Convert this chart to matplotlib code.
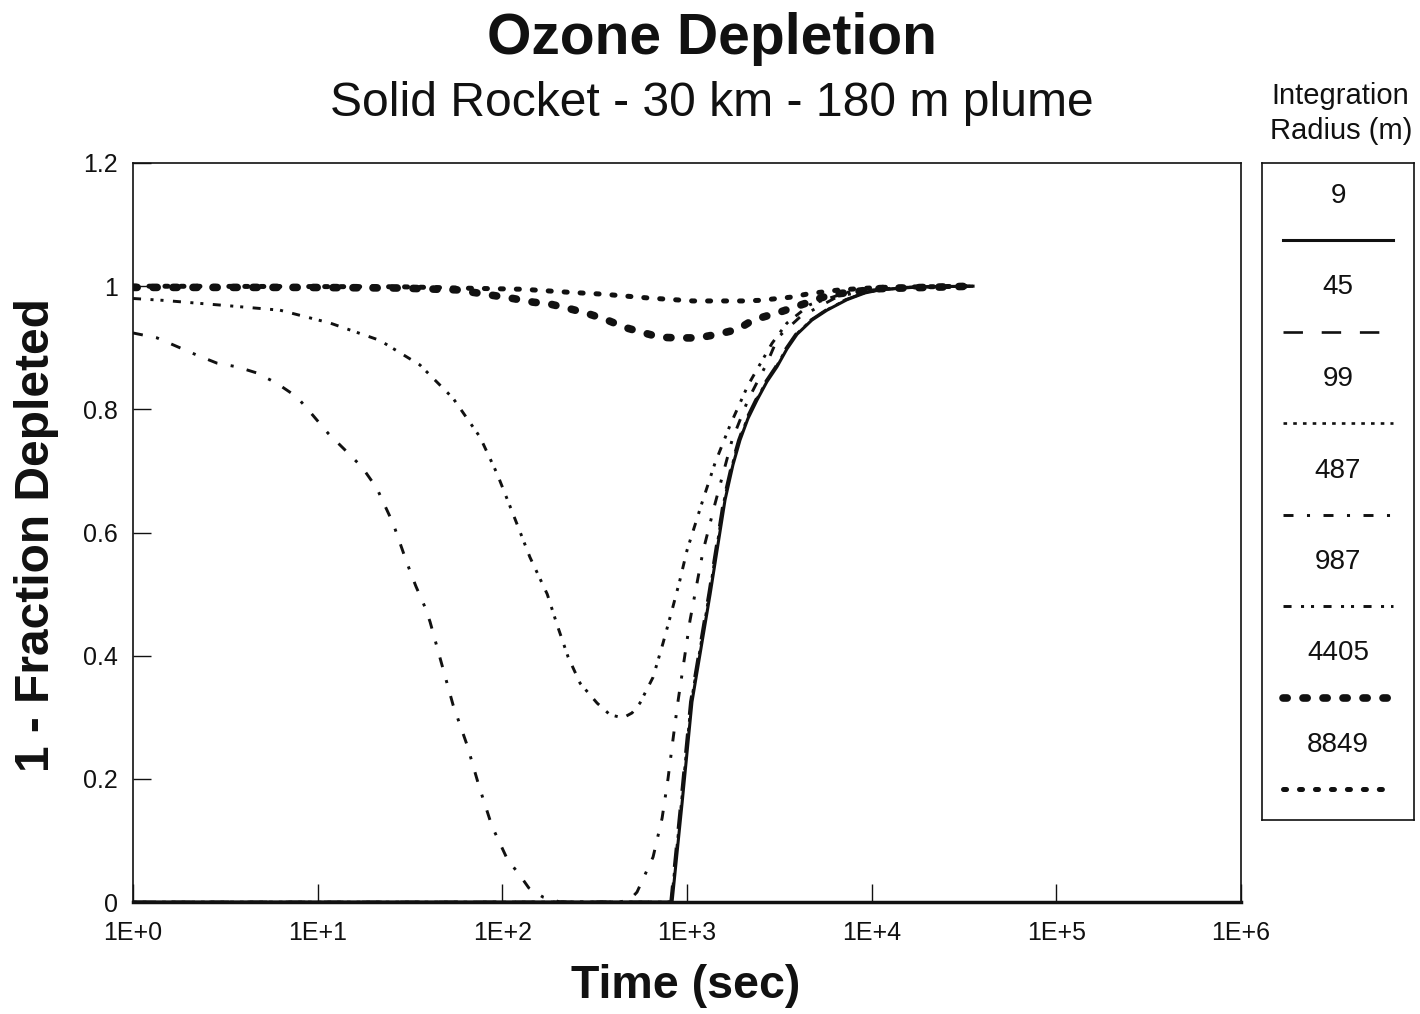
import numpy as np
import matplotlib
matplotlib.use("Agg")
import matplotlib.pyplot as plt
from matplotlib.ticker import FixedLocator, FuncFormatter, NullLocator

plt.rcParams['font.family'] = ['Liberation Sans', 'DejaVu Sans']
plt.rcParams['lines.scale_dashes'] = False

# ---------------- data (time in sec, value = 1 - fraction depleted) ----------
radius_labels = ["9", "45", "99", "487", "987", "4405", "8849"]

t_9 = [1, 830, 940, 1064, 1334, 1607, 1774, 1936, 2138, 2393, 2710,
       3069, 3475, 3945, 4750, 5728, 7345, 9200, 11092, 18281, 35400]
v_9 = [0, 0, 0.16, 0.325, 0.50, 0.653, 0.71, 0.75, 0.785, 0.815, 0.845,
       0.869, 0.898, 0.922, 0.945, 0.961, 0.978, 0.989, 0.994, 0.999, 1.0]

t_45 = [1, 815, 922, 1043, 1308, 1575, 1740, 1898, 2096, 2346, 2660,
        3009, 3410, 3870, 4670, 5620, 7200, 9050, 10900, 18000, 35400]
v_45 = [0, 0, 0.16, 0.325, 0.50, 0.653, 0.71, 0.75, 0.785, 0.815, 0.845,
        0.869, 0.898, 0.922, 0.945, 0.961, 0.978, 0.989, 0.994, 0.999, 1.0]

t_99 = [1, 822, 931, 1053, 1320, 1590, 1757, 1917, 2117, 2370, 2685,
        3040, 3440, 3905, 4710, 5670, 7270, 9120, 11000, 18100, 35400]
v_99 = [0, 0, 0.16, 0.325, 0.50, 0.653, 0.71, 0.75, 0.785, 0.815, 0.845,
        0.869, 0.898, 0.922, 0.945, 0.961, 0.978, 0.989, 0.994, 0.999, 1.0]

t_487 = [1, 1.35, 2.22, 2.85, 3.66, 4.69, 6.03, 7.73, 9.44, 11.4,
         14.4, 17.4, 20.9, 25.6, 30.5, 34.0, 38.1, 40.6, 47.1,
         54.1, 64.4, 74.8, 87.9, 107, 122, 139, 166, 205, 434,
         491, 536, 655, 733, 789, 839, 893, 951, 1038, 1148,
         1222, 1419, 1754, 2138, 2710, 3112, 4093, 6730, 14223, 35400]
v_487 = [0.924, 0.916, 0.888, 0.875, 0.869, 0.859, 0.842, 0.82, 0.79, 0.761,
         0.731, 0.706, 0.672, 0.615, 0.55, 0.513, 0.479, 0.455, 0.385,
         0.32, 0.255, 0.188, 0.123, 0.068, 0.047, 0.023, 0.008, 0.0, 0.0,
         0.004, 0.016, 0.073, 0.136, 0.2, 0.263, 0.325, 0.38, 0.457, 0.527,
         0.57, 0.647, 0.75, 0.815, 0.875, 0.917, 0.95, 0.985, 0.998, 1.0]

t_987 = [1, 1.45, 3.35, 6.25, 11.7, 21.7, 35.8, 54.1, 75.7, 93.5,
         114, 141, 175, 198, 227, 264, 326, 383, 450, 504,
         556, 655, 741, 830, 916, 1000, 1205, 1419, 1710, 2138,
         2884, 3475, 4634, 7345, 14223, 35400]
v_987 = [0.98, 0.977, 0.968, 0.961, 0.94, 0.912, 0.872, 0.818, 0.755, 0.696,
         0.631, 0.56, 0.50, 0.45, 0.398, 0.355, 0.323, 0.304, 0.299, 0.307,
         0.323, 0.365, 0.42, 0.474, 0.523, 0.571, 0.648, 0.713, 0.774, 0.839,
         0.907, 0.94, 0.97, 0.99, 0.998, 1.0]

t_4405 = [1, 8, 28, 57, 89, 114, 147, 181, 227, 287,
          369, 461, 570, 715, 894, 1148, 1472, 1888, 2275, 3192,
          4093, 5445, 6730, 11092, 35400]
v_4405 = [0.998, 0.998, 0.997, 0.994, 0.985, 0.98, 0.974, 0.971, 0.964, 0.956,
          0.945, 0.933, 0.925, 0.917, 0.916, 0.916, 0.922, 0.930, 0.945, 0.958,
          0.969, 0.982, 0.988, 0.996, 1.0]

t_8849 = [1, 28, 57, 129, 232, 351, 607, 1076, 2009, 2483,
          3614, 4634, 6730, 11092, 35400]
v_8849 = [1.0, 0.999, 0.997, 0.995, 0.990, 0.987, 0.981, 0.976, 0.976, 0.977,
          0.982, 0.988, 0.994, 0.998, 1.0]

series_t = [t_9, t_45, t_99, t_487, t_987, t_4405, t_8849]
series_v = [v_9, v_45, v_99, v_487, v_987, v_4405, v_8849]

x_ticks = [1, 10, 100, 1000, 1e4, 1e5, 1e6]
y_ticks = [0, 0.2, 0.4, 0.6, 0.8, 1.0, 1.2]

# ---------------- styles ------------------------------------------------------
ink = '#111111'
styles = [
    dict(lw=2.2, ls='-'),
    dict(lw=1.9, dashes=(14, 13.5)),
    dict(lw=1.9, dashes=(2.6, 4.4)),
    dict(lw=2.1, dashes=(7.2, 9.7, 2.2, 9.7)),
    dict(lw=2.1, dashes=(5.8, 6.8, 2.2, 5, 2.2, 6.8)),
    dict(lw=5.5, dashes=(3, 11.4), dash_capstyle='round'),
    dict(lw=3.6, dashes=(2.2, 9.3), dash_capstyle='round'),
]

W, H = 1420, 1014
fig = plt.figure(figsize=(W / 100, H / 100), dpi=100)
fig.patch.set_facecolor('white')

ax = fig.add_axes([133 / W, 112 / H, 1108 / W, 739 / H])
for t, v, st in zip(series_t, series_v, styles):
    ax.plot(t, v, color=ink, **st)

ax.set_xscale('log')
ax.set_xlim(1, 1e6)
ax.set_ylim(0, 1.2)
ax.xaxis.set_major_locator(FixedLocator(x_ticks))
ax.xaxis.set_minor_locator(NullLocator())
ax.xaxis.set_major_formatter(FuncFormatter(lambda x, p: f"1E+{int(round(np.log10(x)))}"))
ax.yaxis.set_major_locator(FixedLocator(y_ticks))
ax.yaxis.set_major_formatter(FuncFormatter(lambda y, p: f"{round(y, 1):g}"))
ax.tick_params(axis='both', direction='in', length=13, width=1, labelsize=18,
               colors=ink)
ax.tick_params(axis='x', pad=14)
ax.tick_params(axis='y', pad=11)
for s in ax.spines.values():
    s.set_linewidth(1.2)
    s.set_color(ink)
ax.spines['bottom'].set_linewidth(2.5)

# titles and axis labels
fig.text(712 / W, 1 - 39 / H, "Ozone Depletion", ha='center', va='center',
         fontsize=41, fontweight='bold', color=ink)
fig.text(712 / W, 1 - 104 / H, "Solid Rocket - 30 km - 180 m plume", ha='center',
         va='center', fontsize=34.6, color=ink)
fig.text(686 / W, 1 - 986 / H, "Time (sec)", ha='center', va='center',
         fontsize=33.5, fontweight='bold', color=ink)
fig.text(37 / W, 1 - 535 / H, "1 - Fraction Depleted", ha='center', va='center',
         rotation=90, fontsize=34.5, fontweight='bold', color=ink)

# legend box (labels above line samples)
fig.text(1340 / W, 1 - 96 / H, "Integration", ha='center', va='center',
         fontsize=21, color=ink)
fig.text(1341 / W, 1 - 131 / H, "Radius (m)", ha='center', va='center',
         fontsize=21, color=ink)
lax = fig.add_axes([1262 / W, (H - 820) / H, 152 / W, 657 / H])
lax.set_xlim(0, 1)
lax.set_ylim(0, 1)
lax.set_xticks([])
lax.set_yticks([])
for s in lax.spines.values():
    s.set_linewidth(1.2)
    s.set_color(ink)
step = 91.5 / 657
for i, (lab, st) in enumerate(zip(radius_labels, styles)):
    ly = (820 - 196) / 657 - i * step
    sy = (820 - 240) / 657 - i * step
    lax.text(0.5, ly, lab, ha='center', va='center', fontsize=20, color=ink)
    lax.plot([0.138, 0.862], [sy, sy], color=ink, **st)

fig.savefig("out.png", dpi=100)
